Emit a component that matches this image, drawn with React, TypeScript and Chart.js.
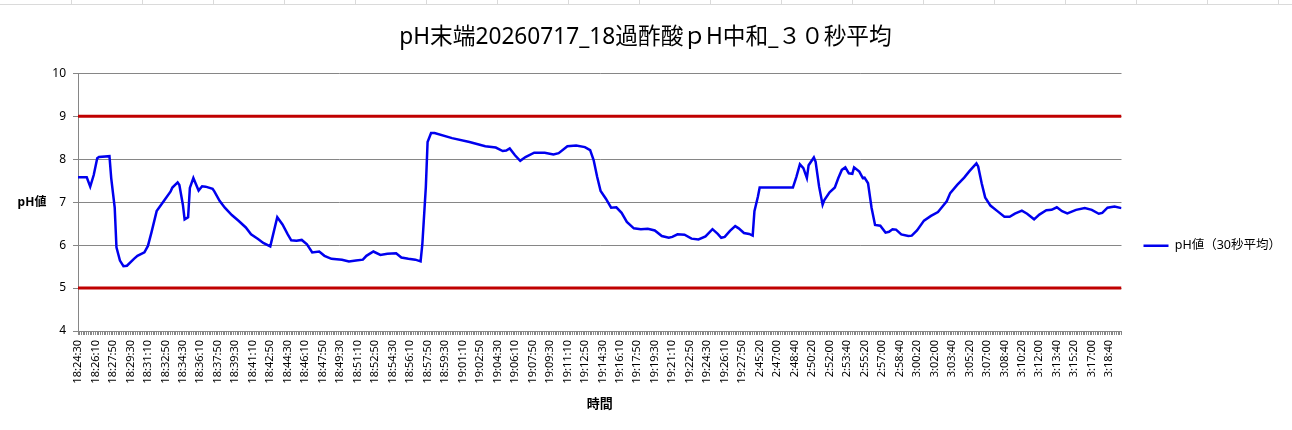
import { useEffect, useRef } from "react";
import Chart from "chart.js/auto";

const TITLE = "pH末端20260717_18過酢酸ｐH中和_３０秒平均";
const SERIES_LABEL = "pH値（30秒平均）";
const Y_TITLE = "pH値";
const X_TITLE = "時間";

// one category every 10 s, a label every 10 categories
const POINT_COUNT = 598;
const TICK_LABELS = [
  "18:24:30", "18:26:10", "18:27:50", "18:29:30", "18:31:10", "18:32:50",
  "18:34:30", "18:36:10", "18:37:50", "18:39:30", "18:41:10", "18:42:50",
  "18:44:30", "18:46:10", "18:47:50", "18:49:30", "18:51:10", "18:52:50",
  "18:54:30", "18:56:10", "18:57:50", "18:59:30", "19:01:10", "19:02:50",
  "19:04:30", "19:06:10", "19:07:50", "19:09:30", "19:11:10", "19:12:50",
  "19:14:30", "19:16:10", "19:17:50", "19:19:30", "19:21:10", "19:22:50",
  "19:24:30", "19:26:10", "19:27:50", "2:45:20", "2:47:00", "2:48:40",
  "2:50:20", "2:52:00", "2:53:40", "2:55:20", "2:57:00", "2:58:40",
  "3:00:20", "3:02:00", "3:03:40", "3:05:20", "3:07:00", "3:08:40",
  "3:10:20", "3:12:00", "3:13:40", "3:15:20", "3:17:00", "3:18:40",
];

// readings taken off the curve: category index -> pH
const PH_INDEX = [
  0, 5, 7, 9, 11, 12, 18, 19, 21, 22, 24, 26, 28, 32, 34, 38, 40, 42, 45, 49,
  53, 54, 57, 58, 60, 61, 63, 64, 66, 69, 71, 73, 77, 78, 81, 84, 88, 92, 96, 99,
  103, 106, 110, 114, 117, 120, 122, 125, 128, 131, 134, 138, 141, 145, 151, 155, 159, 163, 165, 169,
  173, 177, 182, 185, 189, 193, 196, 197, 199, 200, 202, 204, 214, 224, 233, 239, 243, 245, 247, 250,
  253, 256, 261, 267, 272, 275, 280, 285, 290, 293, 295, 297, 299, 302, 305, 308, 311, 314, 318, 322,
  326, 330, 334, 338, 340, 343, 347, 351, 355, 359, 363, 366, 368, 370, 373, 376, 378, 381, 384, 386,
  387, 389, 390, 409, 411, 413, 415, 417, 418, 421, 422, 424, 426, 427, 430, 433, 435, 437, 439, 441,
  443, 444, 447, 449, 450, 452, 454, 456, 459, 462, 464, 466, 468, 471, 475, 477, 480, 484, 488, 492,
  494, 497, 499, 503, 507, 510, 514, 515, 517, 519, 522, 526, 530, 533, 536, 540, 543, 547, 550, 554,
  557, 560, 563, 566, 571, 576, 580, 584, 586, 589, 593, 597,
];
const PH_VALUES = [
  7.58, 7.58, 7.36, 7.63, 8.02, 8.05, 8.07, 7.56, 6.87, 5.95, 5.64, 5.51, 5.52, 5.68, 5.75, 5.83, 5.98, 6.29, 6.79, 7.02,
  7.25, 7.34, 7.46, 7.40, 6.94, 6.60, 6.65, 7.33, 7.56, 7.27, 7.37, 7.36, 7.31, 7.25, 7.03, 6.87, 6.70, 6.56, 6.41, 6.25,
  6.14, 6.05, 5.97, 6.65, 6.48, 6.25, 6.11, 6.10, 6.12, 6.02, 5.83, 5.85, 5.75, 5.68, 5.66, 5.62, 5.64, 5.66, 5.75, 5.85,
  5.77, 5.80, 5.81, 5.71, 5.68, 5.66, 5.62, 6.02, 7.35, 8.40, 8.61, 8.61, 8.49, 8.40, 8.30, 8.27, 8.19, 8.20, 8.25, 8.09,
  7.96, 8.05, 8.15, 8.15, 8.11, 8.14, 8.30, 8.32, 8.28, 8.21, 7.98, 7.59, 7.26, 7.08, 6.87, 6.88, 6.75, 6.54, 6.39, 6.37,
  6.38, 6.34, 6.21, 6.17, 6.19, 6.25, 6.24, 6.15, 6.13, 6.20, 6.37, 6.26, 6.17, 6.19, 6.33, 6.44, 6.39, 6.28, 6.26, 6.22,
  6.79, 7.13, 7.34, 7.34, 7.59, 7.88, 7.79, 7.56, 7.86, 8.04, 7.94, 7.36, 6.94, 7.05, 7.23, 7.34, 7.56, 7.75, 7.81, 7.67,
  7.66, 7.81, 7.71, 7.56, 7.57, 7.44, 6.87, 6.47, 6.45, 6.29, 6.31, 6.37, 6.36, 6.25, 6.21, 6.22, 6.34, 6.57, 6.68, 6.77,
  6.87, 7.02, 7.21, 7.40, 7.57, 7.72, 7.90, 7.83, 7.44, 7.11, 6.92, 6.79, 6.66, 6.66, 6.73, 6.80, 6.73, 6.60, 6.71, 6.81,
  6.82, 6.88, 6.79, 6.74, 6.82, 6.86, 6.82, 6.73, 6.75, 6.87, 6.90, 6.86,
];

// control limits drawn as red lines
const LIMIT_HIGH = 9;
const LIMIT_LOW = 5;
const Y_MIN = 4;
const Y_MAX = 10;

const FONT = "'Noto Sans', 'Noto Sans CJK JP', sans-serif";
const AXIS_GRAY = "#868686";

const yTitlePlugin = {
  id: "yTitle",
  afterDraw(chart: Chart) {
    const { ctx, chartArea } = chart;
    ctx.save();
    ctx.font = `bold 12px ${FONT}`;
    ctx.fillStyle = "#000";
    ctx.textAlign = "center";
    ctx.textBaseline = "middle";
    ctx.fillText(Y_TITLE, 32, (chartArea.top + chartArea.bottom) / 2);
    ctx.restore();
  },
};

export default function App() {
  const chartRef = useRef<HTMLCanvasElement>(null);
  const chartInstance = useRef<Chart | null>(null);

  useEffect(() => {
    if (!chartRef.current) return;
    if (chartInstance.current) chartInstance.current.destroy();

    const lastIndex = POINT_COUNT - 1;

    chartInstance.current = new Chart(chartRef.current, {
      type: "line",
      data: {
        datasets: [
          {
            label: SERIES_LABEL,
            data: PH_INDEX.map((x, i) => ({ x, y: PH_VALUES[i] })),
            borderColor: "#0000ee",
            backgroundColor: "#0000ee",
            borderWidth: 2.5,
            pointRadius: 0,
            tension: 0,
          },
          {
            label: "upper",
            data: [
              { x: 0, y: LIMIT_HIGH },
              { x: lastIndex, y: LIMIT_HIGH },
            ],
            borderColor: "#c00000",
            borderWidth: 3,
            pointRadius: 0,
          },
          {
            label: "lower",
            data: [
              { x: 0, y: LIMIT_LOW },
              { x: lastIndex, y: LIMIT_LOW },
            ],
            borderColor: "#c00000",
            borderWidth: 3,
            pointRadius: 0,
          },
        ],
      },
      options: {
        animation: false,
        responsive: true,
        maintainAspectRatio: false,
        layout: { padding: { left: 0, right: 1, top: 0, bottom: 0 } },
        plugins: {
          title: {
            display: true,
            text: TITLE,
            color: "#000",
            font: { family: FONT, size: 22.7, weight: "normal" },
            padding: { top: 24, bottom: 22 },
          },
          legend: {
            position: "right",
            // empty title only pushes the single entry down to where Excel put it
            title: { display: true, text: " ", padding: { top: 47, bottom: 0 } },
            labels: {
              usePointStyle: true,
              pointStyle: "line",
              pointStyleWidth: 25,
              padding: 22,
              color: "#000",
              font: { family: FONT, size: 12.5 },
              filter: (item) => item.datasetIndex === 0,
            },
          },
          tooltip: { enabled: false },
        },
        scales: {
          x: {
            type: "linear",
            min: 0,
            max: lastIndex,
            grid: {
              drawOnChartArea: false,
              drawTicks: true,
              tickLength: 4,
              color: AXIS_GRAY,
            },
            border: { color: AXIS_GRAY },
            ticks: {
              stepSize: 1,
              autoSkip: false,
              minRotation: 90,
              maxRotation: 90,
              padding: 5,
              color: "#000",
              font: { family: FONT, size: 11 },
              callback: (value) => {
                const v = Number(value);
                return v % 10 === 0 ? TICK_LABELS[v / 10] ?? "" : "";
              },
            },
            title: {
              display: true,
              text: X_TITLE,
              color: "#000",
              font: { family: FONT, size: 13, weight: "bold" },
              padding: { top: 4, bottom: 18 },
            },
            afterFit: (scale) => {
              scale.height = 99;
            },
          },
          y: {
            min: Y_MIN,
            max: Y_MAX,
            ticks: {
              stepSize: 1,
              padding: 7,
              color: "#000",
              font: { family: FONT, size: 12 },
            },
            grid: { color: AXIS_GRAY, tickLength: 5 },
            border: { color: AXIS_GRAY },
            afterFit: (scale) => {
              scale.width = 78;
            },
          },
        },
      },
      plugins: [yTitlePlugin],
    });

    return () => {
      if (chartInstance.current) {
        chartInstance.current.destroy();
        chartInstance.current = null;
      }
    };
  }, []);

  return (
    <div
      style={{
        position: "absolute",
        left: 0,
        top: 0,
        width: 1292,
        height: 430,
        background: "#fff",
      }}
    >
      {/* spreadsheet cell lines peeking above the chart */}
      <div
        style={{
          position: "absolute",
          left: 0,
          top: 0,
          width: 1292,
          height: 4,
          borderBottom: "1px solid #dadada",
          backgroundImage:
            "repeating-linear-gradient(to right, transparent 0 70px, #dadada 70px 71px)",
          backgroundPosition: "1px 0",
        }}
      />
      <div style={{ position: "absolute", left: 0, top: 0, width: 1292, height: 430 }}>
        <canvas ref={chartRef}></canvas>
      </div>
    </div>
  );
}
